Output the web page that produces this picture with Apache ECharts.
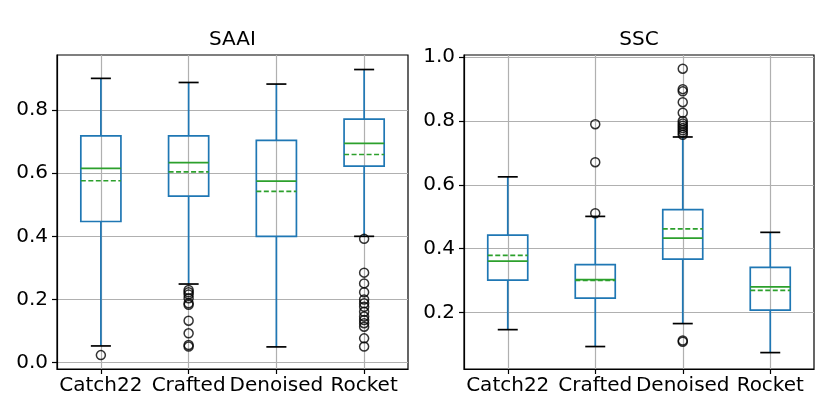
<!DOCTYPE html>
<html><head><meta charset="utf-8">
<script src="https://cdn.jsdelivr.net/npm/echarts@6/dist/echarts.min.js"></script>
<style>html,body{margin:0;padding:0;background:#fff}#c{width:830px;height:415px}</style>
</head><body><div id="c"></div>
<script>
const categories = ['Catch22', 'Crafted', 'Denoised', 'Rocket'];
const panelTitles = ['SAAI', 'SSC'];
// [lowerWhisker, Q1, median, Q3, upperWhisker, mean]
const saaiStats = [
  [0.053, 0.447, 0.615, 0.718, 0.900, 0.576],
  [0.249, 0.527, 0.633, 0.718, 0.887, 0.604],
  [0.050, 0.400, 0.575, 0.704, 0.882, 0.542],
  [0.400, 0.622, 0.694, 0.771, 0.928, 0.659]
];
const sscStats = [
  [0.146, 0.301, 0.361, 0.442, 0.625, 0.379],
  [0.093, 0.245, 0.303, 0.350, 0.501, 0.300],
  [0.165, 0.367, 0.433, 0.522, 0.750, 0.462],
  [0.074, 0.207, 0.280, 0.341, 0.451, 0.269]
];
const saaiOutliers = [
  [0.024],
  [0.230, 0.223, 0.216, 0.204, 0.188, 0.183, 0.133, 0.093, 0.056, 0.051],
  [],
  [0.392, 0.285, 0.251, 0.223, 0.200, 0.188, 0.177, 0.161, 0.146, 0.135, 0.125, 0.114, 0.077, 0.051]
];
const sscOutliers = [
  [],
  [0.790, 0.671, 0.511],
  [0.964, 0.900, 0.893, 0.859, 0.826, 0.800, 0.792, 0.785, 0.778, 0.771, 0.764, 0.757, 0.112, 0.108],
  []
];
const saaiTicks = [0, 0.2, 0.4, 0.6, 0.8];
const sscTicks = [0.2, 0.4, 0.6, 0.8, 1.0];
const saaiRange = [-0.02, 0.974];
const sscRange = [0.0226, 1.007];

const FONT = 'DejaVu Sans';
const FS = 20;
const BLUE = '#1f77b4', GREEN = '#2ca02c';

function renderBox(params, api) {
  const x = api.value(0);
  const lo = api.coord([x, api.value(1)]);
  const q1 = api.coord([x, api.value(2)]);
  const med = api.coord([x, api.value(3)]);
  const q3 = api.coord([x, api.value(4)]);
  const hi = api.coord([x, api.value(5)]);
  const mean = api.coord([x, api.value(6)]);
  const band = api.size([1, 0])[0];
  const bw = band * 0.457, cw = bw / 2;
  const cx = lo[0];
  const lw = 1.7;
  const ln = (x1, y1, x2, y2, stroke, dash) => ({
    type: 'line', shape: {x1, y1, x2, y2},
    style: {stroke, lineWidth: lw, lineDash: dash || null, fill: null}
  });
  return {
    type: 'group',
    children: [
      ln(cx, q1[1], cx, lo[1], BLUE),
      ln(cx, q3[1], cx, hi[1], BLUE),
      {type: 'rect', shape: {x: cx - bw / 2, y: q3[1], width: bw, height: q1[1] - q3[1]},
       style: {fill: 'none', stroke: BLUE, lineWidth: lw}},
      ln(cx - cw / 2, lo[1], cx + cw / 2, lo[1], '#000'),
      ln(cx - cw / 2, hi[1], cx + cw / 2, hi[1], '#000'),
      ln(cx - bw / 2, med[1], cx + bw / 2, med[1], GREEN),
      ln(cx - bw / 2, mean[1], cx + bw / 2, mean[1], GREEN, [5, 2.5])
    ]
  };
}

function boxData(stats) {
  return stats.map((s, i) => [i, s[0], s[1], s[2], s[3], s[4], s[5]]);
}
function outlierData(outs) {
  const d = [];
  outs.forEach((arr, i) => arr.forEach(v => d.push([i, v])));
  return d;
}

const grids = [
  {left: 57, right: 422, top: 55, bottom: 46},
  {left: 464, right: 16, top: 55, bottom: 46}
];
const ranges = [saaiRange, sscRange];
const ticks = [saaiTicks, sscTicks];

const option = {
  animation: false,
  backgroundColor: '#fff',
  grid: grids.map(g => Object.assign({show: true, borderColor: '#000', borderWidth: 1.2, backgroundColor: 'transparent'}, g)),
  graphic: panelTitles.map((t, i) => ({
    type: 'text',
    x: i === 0 ? 232.5 : 639,
    y: 40,
    style: {text: t, font: FS + 'px "' + FONT + '"', fill: '#000', textAlign: 'center', textVerticalAlign: 'middle'}
  })),
  xAxis: [0, 1].map(i => ({
    type: 'category', gridIndex: i, data: categories, boundaryGap: true,
    axisLine: {show: true, onZero: false, lineStyle: {color: '#000', width: 1.2}},
    axisTick: {show: true, alignWithLabel: true, length: 5, lineStyle: {color: '#000', width: 1.2}},
    axisLabel: {fontFamily: FONT, fontSize: FS, color: '#000', margin: 7, interval: 0},
    splitLine: {show: true, alignWithLabel: true, lineStyle: {color: '#b0b0b0', width: 1.2}}
  })),
  yAxis: [0, 1].map(i => ({
    type: 'value', gridIndex: i, min: ranges[i][0], max: ranges[i][1],
    axisLine: {show: true, onZero: false, lineStyle: {color: '#000', width: 1.2}},
    axisTick: {show: true, length: 5, customValues: ticks[i], lineStyle: {color: '#000', width: 1.2}},
    axisLabel: {fontFamily: FONT, fontSize: FS, color: '#000', margin: 9, customValues: ticks[i],
                formatter: v => Number(v).toFixed(1)},
    splitLine: {show: true, lineStyle: {color: '#b0b0b0', width: 1.2}}
  })),
  series: [
    {type: 'custom', xAxisIndex: 0, yAxisIndex: 0, renderItem: renderBox, data: boxData(saaiStats),
     encode: {x: 0, y: [1, 2, 3, 4, 5, 6]}, z: 3},
    {type: 'custom', xAxisIndex: 1, yAxisIndex: 1, renderItem: renderBox, data: boxData(sscStats),
     encode: {x: 0, y: [1, 2, 3, 4, 5, 6]}, z: 3},
    {type: 'scatter', xAxisIndex: 0, yAxisIndex: 0, data: outlierData(saaiOutliers), symbol: 'circle', symbolSize: 9,
     itemStyle: {color: 'rgba(0,0,0,0)', borderColor: '#000', borderWidth: 1.5}, z: 4},
    {type: 'scatter', xAxisIndex: 1, yAxisIndex: 1, data: outlierData(sscOutliers), symbol: 'circle', symbolSize: 9,
     itemStyle: {color: 'rgba(0,0,0,0)', borderColor: '#000', borderWidth: 1.5}, z: 4}
  ]
};
const chart = echarts.init(document.getElementById('c'), null, {renderer: 'canvas'});
chart.setOption(option);
</script>
</body></html>
